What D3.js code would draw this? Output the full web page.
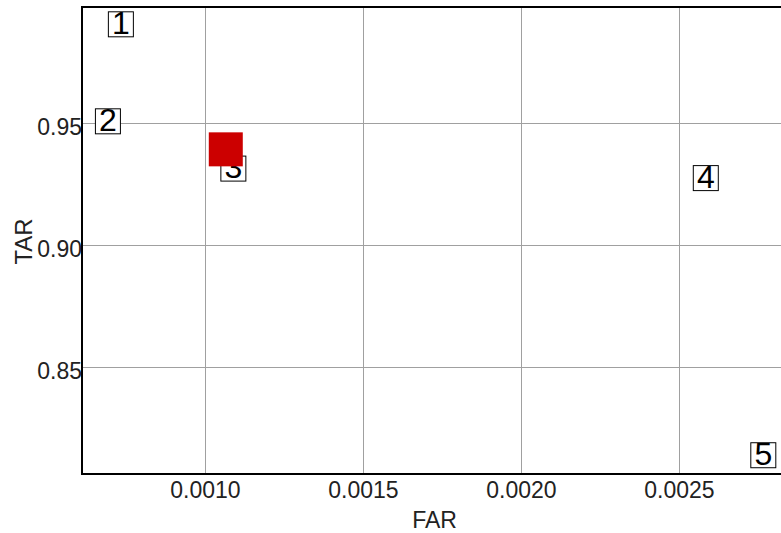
<!DOCTYPE html>
<html><head><meta charset="utf-8">
<script src="https://cdn.jsdelivr.net/npm/d3@7"></script>
<style>body{margin:0;background:#fff;} svg{display:block;}</style>
</head><body>
<svg id="c" width="781" height="533"></svg>
<script>
const labels = ["1","2","3","4","5"];
const far = [0.000734, 0.000693, 0.00109, 0.002585, 0.002767];
const tar = [0.9906, 0.9508, 0.9314, 0.9275, 0.8138];
const highlightFar = [0.001066];
const highlightTar = [0.9393];
const xTicks = [0.0010, 0.0015, 0.0020, 0.0025];
const yTicks = [0.85, 0.90, 0.95];
const xDomain = [0.000611, 0.002823];
const yDomain = [0.8061, 0.9977];

const svg = d3.select("#c");
const L = 82, R = 781, T = 7, B = 474;
const x = d3.scaleLinear().domain(xDomain).range([L, R]);
const y = d3.scaleLinear().domain(yDomain).range([B, T]);
const font = "'Liberation Sans', Arial, sans-serif";

// grid
svg.append("g").selectAll("line").data(xTicks).join("line")
  .attr("x1", d => Math.round(x(d)) + 0.5).attr("x2", d => Math.round(x(d)) + 0.5)
  .attr("y1", T).attr("y2", B).attr("stroke", "#a0a0a0").attr("stroke-width", 1);
svg.append("g").selectAll("line").data(yTicks).join("line")
  .attr("x1", L).attr("x2", R)
  .attr("y1", d => Math.round(y(d)) + 0.5).attr("y2", d => Math.round(y(d)) + 0.5)
  .attr("stroke", "#a0a0a0").attr("stroke-width", 1);

// axes via d3
const xAxis = svg.append("g").attr("transform", `translate(0,${B})`)
  .call(d3.axisBottom(x).tickValues(xTicks).tickFormat(d3.format(".4f")).tickSize(0).tickPadding(8));
xAxis.select(".domain").remove();
xAxis.selectAll("text").attr("font-family", font).attr("font-size", 23).attr("fill", "#222");

const yAxis = svg.append("g").attr("transform", `translate(${L},0)`)
  .call(d3.axisLeft(y).tickValues(yTicks).tickFormat(d3.format(".2f")).tickSize(0).tickPadding(0));
yAxis.select(".domain").remove();
yAxis.selectAll("text").attr("font-family", font).attr("font-size", 23).attr("fill", "#222").attr("dy", "0.5em");

// frame
svg.append("rect").attr("x", L).attr("y", T).attr("width", 800).attr("height", B - T)
  .attr("fill", "none").attr("stroke", "#000").attr("stroke-width", 2);

// labels
const idx = d3.range(labels.length);
const lg = svg.append("g").selectAll("g").data(idx).join("g")
  .attr("transform", i => `translate(${x(far[i])},${y(tar[i])})`);
lg.append("rect").attr("x", -12.5).attr("y", -12.5).attr("width", 25).attr("height", 25)
  .attr("fill", "#fff").attr("stroke", "#000").attr("stroke-width", 1);
lg.append("text").attr("text-anchor", "middle").attr("y", 9.5)
  .attr("font-family", font).attr("font-size", 32).attr("fill", "#000")
  .text(i => labels[i]);

// highlight square
svg.append("g").selectAll("rect").data(highlightFar).join("rect")
  .attr("x", (d, i) => x(d) - 17).attr("y", (d, i) => y(highlightTar[i]) - 17)
  .attr("width", 34).attr("height", 34).attr("fill", "#cc0000");

// titles
svg.append("text").attr("x", (L + R) / 2 + 3).attr("y", 528).attr("text-anchor", "middle")
  .attr("font-family", font).attr("font-size", 23).attr("fill", "#222").text("FAR");
svg.append("text").attr("transform", `translate(32,${(T + B) / 2 + 1}) rotate(-90)`)
  .attr("text-anchor", "middle").attr("font-family", font).attr("font-size", 24).attr("fill", "#222").text("TAR");
</script>
</body></html>
